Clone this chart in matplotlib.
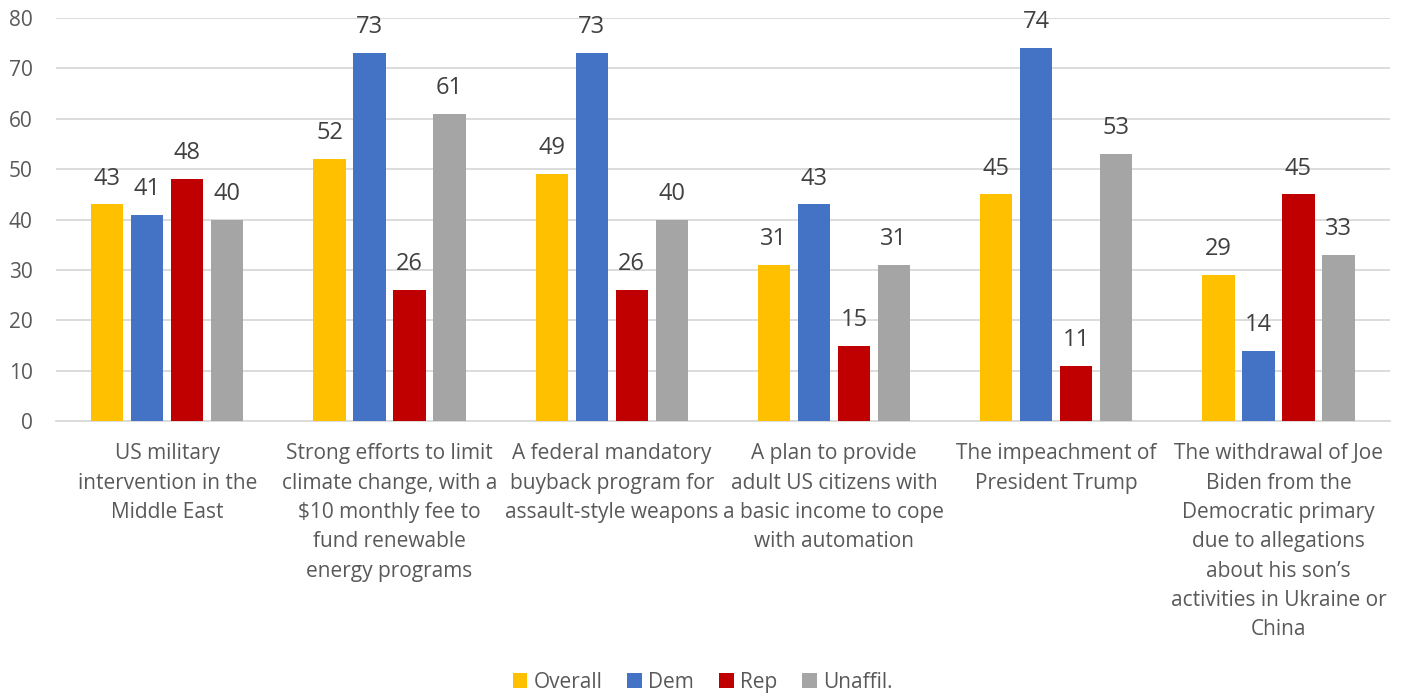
import matplotlib.pyplot as plt
import numpy as np

plt.rcParams['font.family'] = ['Open Sans', 'DejaVu Sans']

categories = [
    "US military\nintervention in the\nMiddle East",
    "Strong efforts to limit\nclimate change, with a\n$10 monthly fee to\nfund renewable\nenergy programs",
    "A federal mandatory\nbuyback program for\nassault-style weapons",
    "A plan to provide\nadult US citizens with\na basic income to cope\nwith automation",
    "The impeachment of\nPresident Trump",
    "The withdrawal of Joe\nBiden from the\nDemocratic primary\ndue to allegations\nabout his son\u2019s\nactivities in Ukraine or\nChina",
]
series = ["Overall", "Dem", "Rep", "Unaffil."]
overall = [43, 52, 49, 31, 45, 29]
dem = [41, 73, 73, 43, 74, 14]
rep = [48, 26, 26, 15, 11, 45]
unaffil = [40, 61, 40, 31, 53, 33]
colors = ["#FFC000", "#4472C4", "#C00000", "#A5A5A5"]

values = [overall, dem, rep, unaffil]
x = np.arange(len(categories))
step = 0.18
width = 0.145

fig = plt.figure(figsize=(14.05, 6.96), dpi=100)
ax = fig.add_axes([0.04, 0.395, 0.949, 0.579])

for i, (name, vals, c) in enumerate(zip(series, values, colors)):
    bars = ax.bar(x + (i - 1.5) * step, vals, width, color=c, label=name, zorder=3)
    for b, v in zip(bars, vals):
        ax.annotate(str(v), (b.get_x() + b.get_width() / 2, v), xytext=(0, 10),
                    textcoords="offset points", ha="center", va="bottom",
                    fontsize=17, color="#404040")

ax.set_xlim(-0.5, len(categories) - 0.5)
ax.set_ylim(0, 80)
ax.set_yticks(range(0, 81, 10))
ax.yaxis.grid(True, color="#D9D9D9", linewidth=1.3, zorder=0)
ax.set_xticks(x)
ax.set_xticklabels(categories, fontsize=15, color="#595959", linespacing=1.52, va="top")
ax.tick_params(axis="y", labelsize=15, labelcolor="#595959", length=0, pad=17)
ax.tick_params(axis="x", length=0, pad=16)
for s in ["top", "right", "left"]:
    ax.spines[s].set_visible(False)
ax.spines["bottom"].set_color("#D9D9D9")
ax.spines["bottom"].set_linewidth(1.3)

fig.legend(loc="lower center", bbox_to_anchor=(0.5, -0.022), ncol=4, frameon=False,
           fontsize=15, labelcolor="#595959", handlelength=0.7, handleheight=0.7,
           handletextpad=0.3, columnspacing=1.2)

plt.savefig("out.png", dpi=100)
